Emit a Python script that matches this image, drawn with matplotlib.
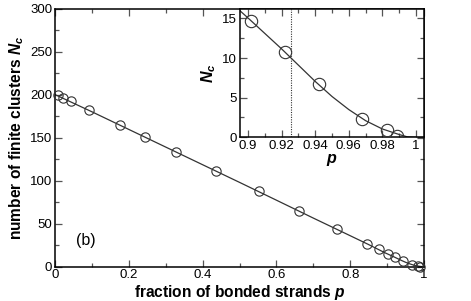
import matplotlib
matplotlib.use("Agg")
import matplotlib.pyplot as plt
from matplotlib.ticker import MultipleLocator

plt.rcParams['font.family'] = ['Liberation Sans', 'DejaVu Sans']
plt.rcParams['mathtext.fontset'] = 'custom'
plt.rcParams['mathtext.it'] = 'Liberation Sans:bold:italic'
plt.rcParams['mathtext.rm'] = 'Liberation Sans:bold'

# data points (fraction of bonded strands p, number of finite clusters Nc)
p_pts = [0.007, 0.023, 0.043, 0.092, 0.177, 0.243, 0.328, 0.437, 0.552, 0.661,
         0.763, 0.846, 0.877, 0.902, 0.922, 0.942, 0.968, 0.983, 0.989]
nc_pts = [199.5, 195.7, 192.2, 182.0, 164.3, 151.0, 133.0, 110.8, 87.6, 64.3,
          43.8, 26.4, 20.6, 14.7, 10.7, 6.7, 2.27, 0.92, 0.2]

# fitted curve
p_curve = [0.0, 0.1, 0.2, 0.3, 0.4, 0.5, 0.6, 0.7, 0.8, 0.85, 0.895, 0.90, 0.91,
           0.92, 0.93, 0.94, 0.95, 0.96, 0.97, 0.98, 0.99, 0.995, 1.0]
nc_curve = [200.0, 180.0, 159.5, 139.0, 118.5, 98.0, 77.3, 56.5, 36.0, 25.7, 16.0,
            15.05, 13.1, 11.15, 9.1, 7.05, 5.15, 3.5, 2.1, 1.05, 0.35, 0.05, 0.0]

p_threshold = 0.9256

main_xticks = [0, 0.2, 0.4, 0.6, 0.8, 1]
main_xticklabels = ["0", "0.2", "0.4", "0.6", "0.8", "1"]
main_yticks = [0, 50, 100, 150, 200, 250, 300]
inset_xticks = [0.9, 0.92, 0.94, 0.96, 0.98, 1.0]
inset_xticklabels = ["0.9", "0.92", "0.94", "0.96", "0.98", "1"]
inset_yticks = [0, 5, 10, 15]

W, H = 471, 301
fig = plt.figure(figsize=(W / 100, H / 100), dpi=100)

ax = fig.add_axes([55 / W, 1 - 266.7 / H, (424 - 55) / W, (266.7 - 8.5) / H])
ax.plot(p_curve, nc_curve, color='#333333', lw=0.9, zorder=2)
ax.plot(p_pts, nc_pts, linestyle='none', marker='o', ms=6.7, mfc='none',
        mec='#333333', mew=0.8, zorder=3, clip_on=False)
ax.set_xlim(0, 1)
ax.set_ylim(0, 300)
ax.set_xticks(main_xticks)
ax.set_xticklabels(main_xticklabels)
ax.set_yticks(main_yticks)
ax.xaxis.set_minor_locator(MultipleLocator(0.1))
ax.yaxis.set_minor_locator(MultipleLocator(25))
ax.tick_params(which='both', direction='in', top=True, right=True,
               labelsize=9.5, pad=2, color='#555555')
ax.tick_params(which='major', length=5, width=0.9)
ax.tick_params(which='minor', length=3, width=0.9)
for s in ax.spines.values():
    s.set_linewidth(1.1)
ax.set_xlabel(r"fraction of bonded strands $p$", fontsize=11.2,
              fontweight='bold', labelpad=1)
ax.set_ylabel(r"number of finite clusters $N_c$", fontsize=11.2,
              fontweight='bold', labelpad=3)
ax.text(0.084, 31, "(b)", fontsize=11.5, ha='center', va='center')

ins = fig.add_axes([240 / W, 1 - 137.3 / H, (424 - 240) / W, (137.3 - 8.5) / H])
ins.plot(p_curve, nc_curve, color='#333333', lw=0.9, zorder=2)
ins.plot(p_pts, nc_pts, linestyle='none', marker='o', ms=8.9, mfc='none',
         mec='#333333', mew=0.8, zorder=3)
ins.axvline(p_threshold, color='#333333', lw=0.8, linestyle=(0, (1, 1.2)))
ins.set_xlim(0.8952, 1.0048)
ins.set_ylim(0, 16.25)
ins.set_xticks(inset_xticks)
ins.set_xticklabels(inset_xticklabels)
ins.set_yticks(inset_yticks)
ins.xaxis.set_minor_locator(MultipleLocator(0.01))
ins.yaxis.set_minor_locator(MultipleLocator(2.5))
ins.tick_params(which='both', direction='in', top=True, right=True,
                labelsize=9.5, pad=2, color='#555555')
ins.tick_params(which='major', length=5, width=0.9)
ins.tick_params(which='minor', length=3, width=0.9)
for s in ins.spines.values():
    s.set_linewidth(1.1)
ins.set_xlabel(r"$p$", fontsize=11.5, labelpad=0)
ins.set_ylabel(r"$N_c$", fontsize=11.5, labelpad=3)

fig.savefig("out.png", dpi=100)
